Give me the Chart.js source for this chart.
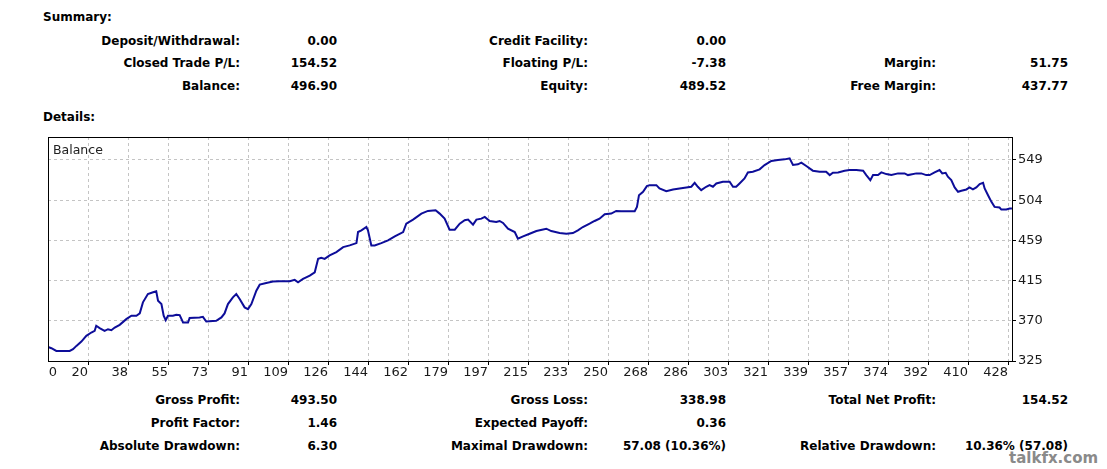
<!DOCTYPE html>
<html><head><meta charset="utf-8">
<script src="https://cdn.jsdelivr.net/npm/chart.js@4/dist/chart.umd.min.js"></script>
<style>
html,body{margin:0;padding:0;background:#fff;}
body{width:1107px;height:469px;position:relative;overflow:hidden;font-family:"DejaVu Sans",Verdana,sans-serif;color:#000;}
.t{position:absolute;font-weight:bold;font-size:12px;line-height:16px;height:16px;white-space:nowrap;text-align:right;}
.h{position:absolute;font-weight:bold;font-size:12px;line-height:16px;left:43px;white-space:nowrap;}
#c{position:absolute;left:0;top:120px;}
#bal{position:absolute;left:53px;top:142px;font-size:12.5px;line-height:16px;color:#222;}
#wm{position:absolute;left:1009px;top:449px;font-size:15px;font-weight:bold;color:#8a8a8a;line-height:18px;}
</style></head>
<body>
<div class="h" style="top:9px">Summary:</div>
<div class="t" style="right:867px;top:33px">Deposit/Withdrawal:</div>
<div class="t" style="right:770px;top:33px">0.00</div>
<div class="t" style="right:519px;top:33px">Credit Facility:</div>
<div class="t" style="right:381px;top:33px">0.00</div>
<div class="t" style="right:867px;top:55px">Closed Trade P/L:</div>
<div class="t" style="right:770px;top:55px">154.52</div>
<div class="t" style="right:519px;top:55px">Floating P/L:</div>
<div class="t" style="right:381px;top:55px">-7.38</div>
<div class="t" style="right:171px;top:55px">Margin:</div>
<div class="t" style="right:39px;top:55px">51.75</div>
<div class="t" style="right:867px;top:78px">Balance:</div>
<div class="t" style="right:770px;top:78px">496.90</div>
<div class="t" style="right:519px;top:78px">Equity:</div>
<div class="t" style="right:381px;top:78px">489.52</div>
<div class="t" style="right:171px;top:78px">Free Margin:</div>
<div class="t" style="right:39px;top:78px">437.77</div>
<div class="h" style="top:109px">Details:</div>

<canvas id="c" width="1107" height="270"></canvas>
<div id="bal">Balance</div>

<div class="t" style="right:867px;top:392px">Gross Profit:</div>
<div class="t" style="right:770px;top:392px">493.50</div>
<div class="t" style="right:519px;top:392px">Gross Loss:</div>
<div class="t" style="right:381px;top:392px">338.98</div>
<div class="t" style="right:171px;top:392px">Total Net Profit:</div>
<div class="t" style="right:39px;top:392px">154.52</div>
<div class="t" style="right:867px;top:415px">Profit Factor:</div>
<div class="t" style="right:770px;top:415px">1.46</div>
<div class="t" style="right:519px;top:415px">Expected Payoff:</div>
<div class="t" style="right:381px;top:415px">0.36</div>
<div class="t" style="right:867px;top:438px">Absolute Drawdown:</div>
<div class="t" style="right:770px;top:438px">6.30</div>
<div class="t" style="right:519px;top:438px">Maximal Drawdown:</div>
<div class="t" style="right:381px;top:438px">57.08 (10.36%)</div>
<div class="t" style="right:171px;top:438px">Relative Drawdown:</div>
<div class="t" style="right:39px;top:438px">10.36% (57.08)</div>
<div id="wm">talkfx.com</div>

<script>
const X_MIN = 2.3, X_STEP = 17.74, X_MAX = 429.83;
const Y_MIN = 325.2, Y_STEP = 44.76, Y_MAX = 574.6;
const xTickLabels = ['0','20','38','55','73','91','109','126','144','162','179','197','215','233','250','268','286','303','321','339','357','374','392','410','428'];
const yTickLabels = ['325','370','415','459','504','549'];

const tradeNo = [2.3,3.8,6.0,11.9,13.4,14.9,17.1,19.3,21.5,23.0,23.7,25.2,27.4,28.9,30.4,31.9,34.1,37.0,39.3,41.5,43.0,44.4,46.6,48.9,50.3,51.1,52.6,53.6,54.5,55.5,57.7,59.2,60.7,62.2,64.4,65.1,69.5,71.0,72.5,76.9,79.2,80.6,82.1,84.3,85.8,87.3,89.5,91.0,92.5,94.7,96.2,99.1,102.1,105.0,109.5,111.7,113.2,115.4,116.8,118.4,120.6,122.1,123.5,125.0,127.2,130.2,133.2,136.1,139.1,139.8,141.3,143.5,144.2,145.7,147.2,150.1,153.1,156.1,159.8,161.2,164.2,167.9,170.8,174.2,176.0,178.2,180.4,182.7,184.9,187.1,188.6,190.8,192.3,194.5,196.0,198.2,201.1,202.6,204.1,206.3,209.3,210.7,213.0,215.9,218.9,223.3,225.5,229.2,232.2,235.1,237.3,239.5,242.5,244.7,246.9,249.2,252.1,254.3,256.5,262.5,263.5,264.4,266.2,267.9,269.1,272.1,273.5,276.5,279.5,282.4,285.4,287.6,289.1,290.5,292.0,294.2,295.7,297.2,298.7,301.6,304.6,306.1,307.5,309.0,311.2,312.7,314.9,317.9,320.1,323.1,326.0,329.0,331.2,332.7,334.9,336.4,338.6,341.5,344.5,347.4,349.0,350.4,352.7,355.6,357.8,360.8,363.8,365.2,367.0,368.2,370.4,371.9,374.1,376.3,379.3,382.2,383.7,387.4,389.6,391.8,393.3,395.5,397.7,398.9,400.4,401.4,402.9,404.4,405.9,407.4,409.6,411.0,412.5,414.0,415.5,417.0,417.7,419.2,420.7,422.1,424.3,425.1,427.3,428.8,429.8];
const balance = [340.9,339.4,336.4,336.4,338.3,342.0,346.8,353.2,356.9,358.8,364.4,361.8,358.8,360.6,359.5,362.5,365.5,371.8,375.6,375.6,378.2,390.5,399.8,401.7,402.8,392.3,388.6,375.6,370.7,375.6,375.6,376.7,376.3,368.1,368.1,373.0,373.7,374.4,369.2,369.9,373.7,378.2,388.6,396.1,399.8,394.2,384.9,383.0,388.6,403.5,410.2,412.1,413.6,414.0,414.0,415.5,412.8,416.6,418.4,420.3,424.0,438.9,440.1,438.9,442.7,446.4,452.0,453.9,456.5,468.8,470.7,474.4,470.7,453.9,453.9,456.5,459.5,464.0,468.8,478.1,482.6,489.3,492.3,493.0,489.3,483.7,471.4,471.4,478.1,481.9,482.6,477.0,482.6,483.7,485.6,481.1,480.0,481.1,478.9,472.5,468.8,461.4,464.0,466.9,469.9,472.5,469.9,467.7,466.9,467.7,470.7,474.4,478.1,481.1,483.7,488.6,489.3,492.3,491.9,491.9,496.8,509.8,513.6,519.9,521.0,521.0,517.3,514.3,516.2,517.3,518.4,519.2,523.6,519.2,515.4,519.2,521.0,519.2,522.9,524.8,524.8,519.2,519.2,522.9,528.5,535.2,536.0,538.6,543.4,547.9,549.0,549.7,550.9,543.4,544.2,546.0,542.3,537.1,536.0,536.0,532.2,534.8,535.2,537.1,537.8,537.8,537.1,532.2,526.6,532.2,532.2,535.2,533.3,532.2,534.1,534.1,532.2,534.1,534.1,532.2,532.2,535.2,537.8,534.1,534.8,530.4,526.6,518.4,513.6,514.7,516.2,518.4,516.2,518.4,522.1,523.6,517.3,509.8,502.4,496.8,496.1,493.8,493.8,495.0,495.0];

const points = tradeNo.map((t, i) => ({x: t, y: balance[i]}));
const GRID = '#c4c4c4';

const frame = {
  id: 'frame',
  afterDraw(chart) {
    const {ctx, chartArea: a} = chart;
    ctx.save();
    ctx.strokeStyle = '#000';
    ctx.lineWidth = 1;
    ctx.strokeRect(a.left + 0.5, a.top + 0.5, a.right - a.left, a.bottom - a.top);
    ctx.restore();
  }
};

new Chart(document.getElementById('c'), {
  type: 'line',
  data: { datasets: [{ data: points, borderColor: '#0d0d99', borderWidth: 2, pointRadius: 0, tension: 0, fill: false }] },
  options: {
    responsive: false, animation: false, devicePixelRatio: 1,
    layout: { padding: { left: 48, top: 17, right: 45, bottom: 9 } },
    plugins: { legend: { display: false }, tooltip: { enabled: false } },
    scales: {
      x: {
        type: 'linear', min: X_MIN, max: X_MAX,
        afterBuildTicks: s => { s.ticks = xTickLabels.map((_, k) => ({ value: X_MIN + (k === 0 ? 0.225 : k) * X_STEP })); },
        afterFit: s => { s.height = 20; },
        ticks: { autoSkip: false, maxRotation: 0, align: 'end', padding: 0, color: '#1a1a1a',
                 font: { family: 'DejaVu Sans', size: 13 },
                 callback: (v, i) => xTickLabels[i] },
        grid: { color: c => c.index === 0 ? 'rgba(0,0,0,0)' : GRID, tickColor: c => c.index === 0 ? 'rgba(0,0,0,0)' : '#000', tickLength: 4, drawTicks: true },
        border: { display: false, dash: [3, 3] }
      },
      y: {
        type: 'linear', position: 'right', min: Y_MIN, max: Y_MAX,
        afterBuildTicks: s => { s.ticks = yTickLabels.map((_, k) => ({ value: Y_MIN + k * Y_STEP })); },
        afterFit: s => { s.width = 50; },
        ticks: { padding: 2, color: '#1a1a1a', font: { family: 'DejaVu Sans', size: 13 },
                 callback: (v, i) => yTickLabels[i] },
        grid: { color: GRID, tickColor: '#000', tickLength: 4 },
        border: { display: false, dash: [3, 3] }
      }
    }
  },
  plugins: [frame]
});
</script>
</body></html>
